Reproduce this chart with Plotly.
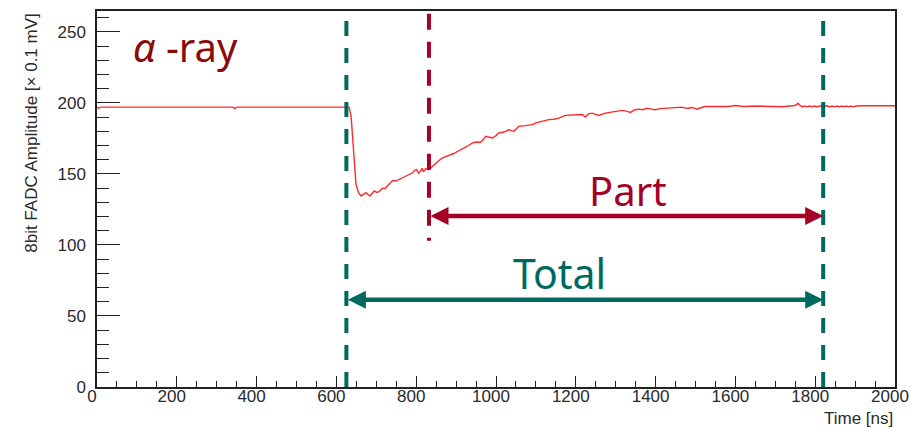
import plotly.graph_objects as go

# FADC waveform of an alpha-ray pulse (time in ns, amplitude in 0.1 mV units)
time_ns = [0, 4, 10, 100, 200, 300, 340, 345, 351, 400, 500, 600, 628, 632, 637, 641, 645, 649,
           653, 656, 662, 668, 674, 679, 684, 689, 695, 701, 707, 712, 716, 722, 728, 735, 741,
           749, 757, 765, 774, 782, 791, 796, 801, 806, 811, 815, 818, 824, 832, 840, 849, 857,
           866, 874, 882, 893, 904, 916, 928, 941, 951, 961, 968, 974, 982, 991, 1000, 1007,
           1020, 1032, 1045, 1057, 1074, 1091, 1100, 1107, 1120, 1132, 1145, 1157, 1174, 1190,
           1207, 1216, 1224, 1232, 1241, 1257, 1274, 1295, 1316, 1326, 1337, 1347, 1357, 1368,
           1378, 1390, 1399, 1412, 1424, 1445, 1466, 1474, 1482, 1492, 1503, 1514, 1524, 1550,
           1582, 1599, 1620, 1650, 1680, 1700, 1720, 1735, 1745, 1752, 1757, 1762, 1768, 1774,
           1780, 1786, 1792, 1798, 1804, 1812, 1830, 1836, 1842, 1848, 1854, 1860, 1866, 1872,
           1878, 1884, 1890, 1896, 1902, 1915, 1950, 2000]
amplitude = [197, 196.2, 197, 197, 197, 197, 197, 196, 197, 197, 197, 197, 197.3, 197, 190, 173,
             154, 143, 139, 136.5, 134.5, 135.5, 136.8, 135.5, 134.5, 136, 138, 137, 137.5, 139,
             140, 139.8, 141.5, 143.5, 145.4, 145, 146, 147.5, 148.5, 149.5, 150.8, 152.5, 153,
             150.5, 152, 154, 151.5, 153.8, 153, 155, 157.8, 159.5, 161.3, 162, 163, 164.2,
             165.8, 167.5, 169.5, 171.8, 172.5, 172.3, 174, 176.5, 176, 175.3, 177, 178.8,
             179.5, 181.1, 180, 183.5, 184, 184.7, 186, 186.5, 187.3, 188.2, 188.5, 189.3,
             191.2, 191.3, 191.6, 191.8, 190, 192.3, 192.8, 191.2, 192.8, 193.5, 194.7, 194.2,
             193.3, 195, 195.6, 195.2, 196.2, 195.6, 195.2, 196, 196.2, 196.5, 197, 196.4,
             196.2, 196.8, 195.6, 196.6, 197.5, 197.5, 197.5, 198.2, 197.5, 197.8, 197.4,
             197.6, 197.3, 197.8, 197.9, 198.5, 199.8, 198.2, 197.3, 197.8, 197.2, 197.8,
             197.2, 197.8, 197.3, 197.8, 198, 197.2, 197.8, 197.2, 197.8, 197.2, 197.8, 197.2,
             197.8, 197.2, 197.8, 197.2, 197.8, 198, 198, 198]

# Integration window boundaries (ns) and marker levels (amplitude units)
total_start = 625
part_start = 832
window_end = 1820
part_marker_bottom = 103
part_arrow_level = 120.4
total_arrow_level = 61.5

x_range = [0, 2000]
y_range = [0, 264.7]

TEAL = "#00695f"
CRIMSON = "#a50026"
DARKRED = "#8b0a0a"
AXIS_FONT = "Liberation Sans, Arial, sans-serif"
TICK_FONT = dict(family=AXIS_FONT, size=17, color="#2a2a2a")

fig = go.Figure()

fig.add_trace(go.Scatter(
    x=time_ns, y=amplitude, mode="lines",
    line=dict(color="#ff2a2a", width=1.4),
    hoverinfo="skip", showlegend=False,
))

# Window boundaries
for xv in (total_start, window_end):
    fig.add_shape(type="line", xref="x", yref="y", x0=xv, x1=xv, y0=y_range[0], y1=y_range[1],
                  line=dict(color=TEAL, width=4, dash="15px,12px"), layer="above")
fig.add_shape(type="line", xref="x", yref="y", x0=part_start, x1=part_start,
              y0=y_range[1] - 2, y1=part_marker_bottom,
              line=dict(color=CRIMSON, width=4, dash="16px,12px"), layer="above")

# Double-headed arrows for the two windows
for x0, level, color in ((part_start, part_arrow_level, CRIMSON),
                         (total_start, total_arrow_level, TEAL)):
    fig.add_annotation(
        x=window_end, y=level, ax=x0, ay=level, xref="x", yref="y", axref="x", ayref="y",
        showarrow=True, arrowhead=2, startarrowhead=2, arrowside="end+start",
        arrowwidth=4.5, arrowsize=0.8, startarrowsize=0.8, arrowcolor=color, text="",
    )

fig.add_annotation(x=1330, y=138.5, xref="x", yref="y", text="Part", showarrow=False,
                   font=dict(family="Noto Sans", size=40, color=CRIMSON),
                   xanchor="center", yanchor="middle")
fig.add_annotation(x=1158, y=80, xref="x", yref="y", text="Total", showarrow=False,
                   font=dict(family="Noto Sans", size=41, color=TEAL),
                   xanchor="center", yanchor="middle")
fig.add_annotation(x=86, y=240, xref="x", yref="y", text="<i>α</i> -ray", showarrow=False,
                   font=dict(family="Noto Sans", size=40, color=DARKRED),
                   xanchor="left", yanchor="middle")

# Axis titles
fig.add_annotation(x=-0.083, y=1.0, xref="paper", yref="paper",
                   text="8bit FADC Amplitude [× 0.1 mV]", textangle=-90, showarrow=False,
                   font=dict(family=AXIS_FONT, size=17, color="#2a2a2a"),
                   xanchor="center", yanchor="top")
fig.add_annotation(x=1.0, y=-0.052, xref="paper", yref="paper", text="Time [ns]",
                   showarrow=False,
                   font=dict(family=AXIS_FONT, size=17, color="#2a2a2a"),
                   xanchor="right", yanchor="top")

fig.update_xaxes(
    range=x_range, dtick=200, tick0=0, ticks="inside", ticklen=11, tickwidth=1.2,
    tickcolor="#222222", showline=True, linecolor="#222222", linewidth=1.5, mirror=True,
    showgrid=False, zeroline=False, tickfont=TICK_FONT, ticklabelshift=-5,
    ticklabelstandoff=-7,
    minor=dict(ticks="inside", ticklen=6, dtick=50, tickcolor="#222222", tickwidth=1.2),
)
fig.update_yaxes(
    range=y_range, dtick=50, tick0=0, ticks="inside", ticklen=23, tickwidth=1.2,
    tickcolor="#222222", showline=True, linecolor="#222222", linewidth=1.5, mirror=True,
    showgrid=False, zeroline=False, tickfont=TICK_FONT, ticklabelstandoff=6,
    minor=dict(ticks="inside", ticklen=12, dtick=10, tickcolor="#222222", tickwidth=1.2),
)

fig.update_layout(
    width=918, height=427,
    margin=dict(l=97, r=19, t=9, b=40),
    paper_bgcolor="white", plot_bgcolor="white",
    showlegend=False,
)

fig.write_html("out.html")
